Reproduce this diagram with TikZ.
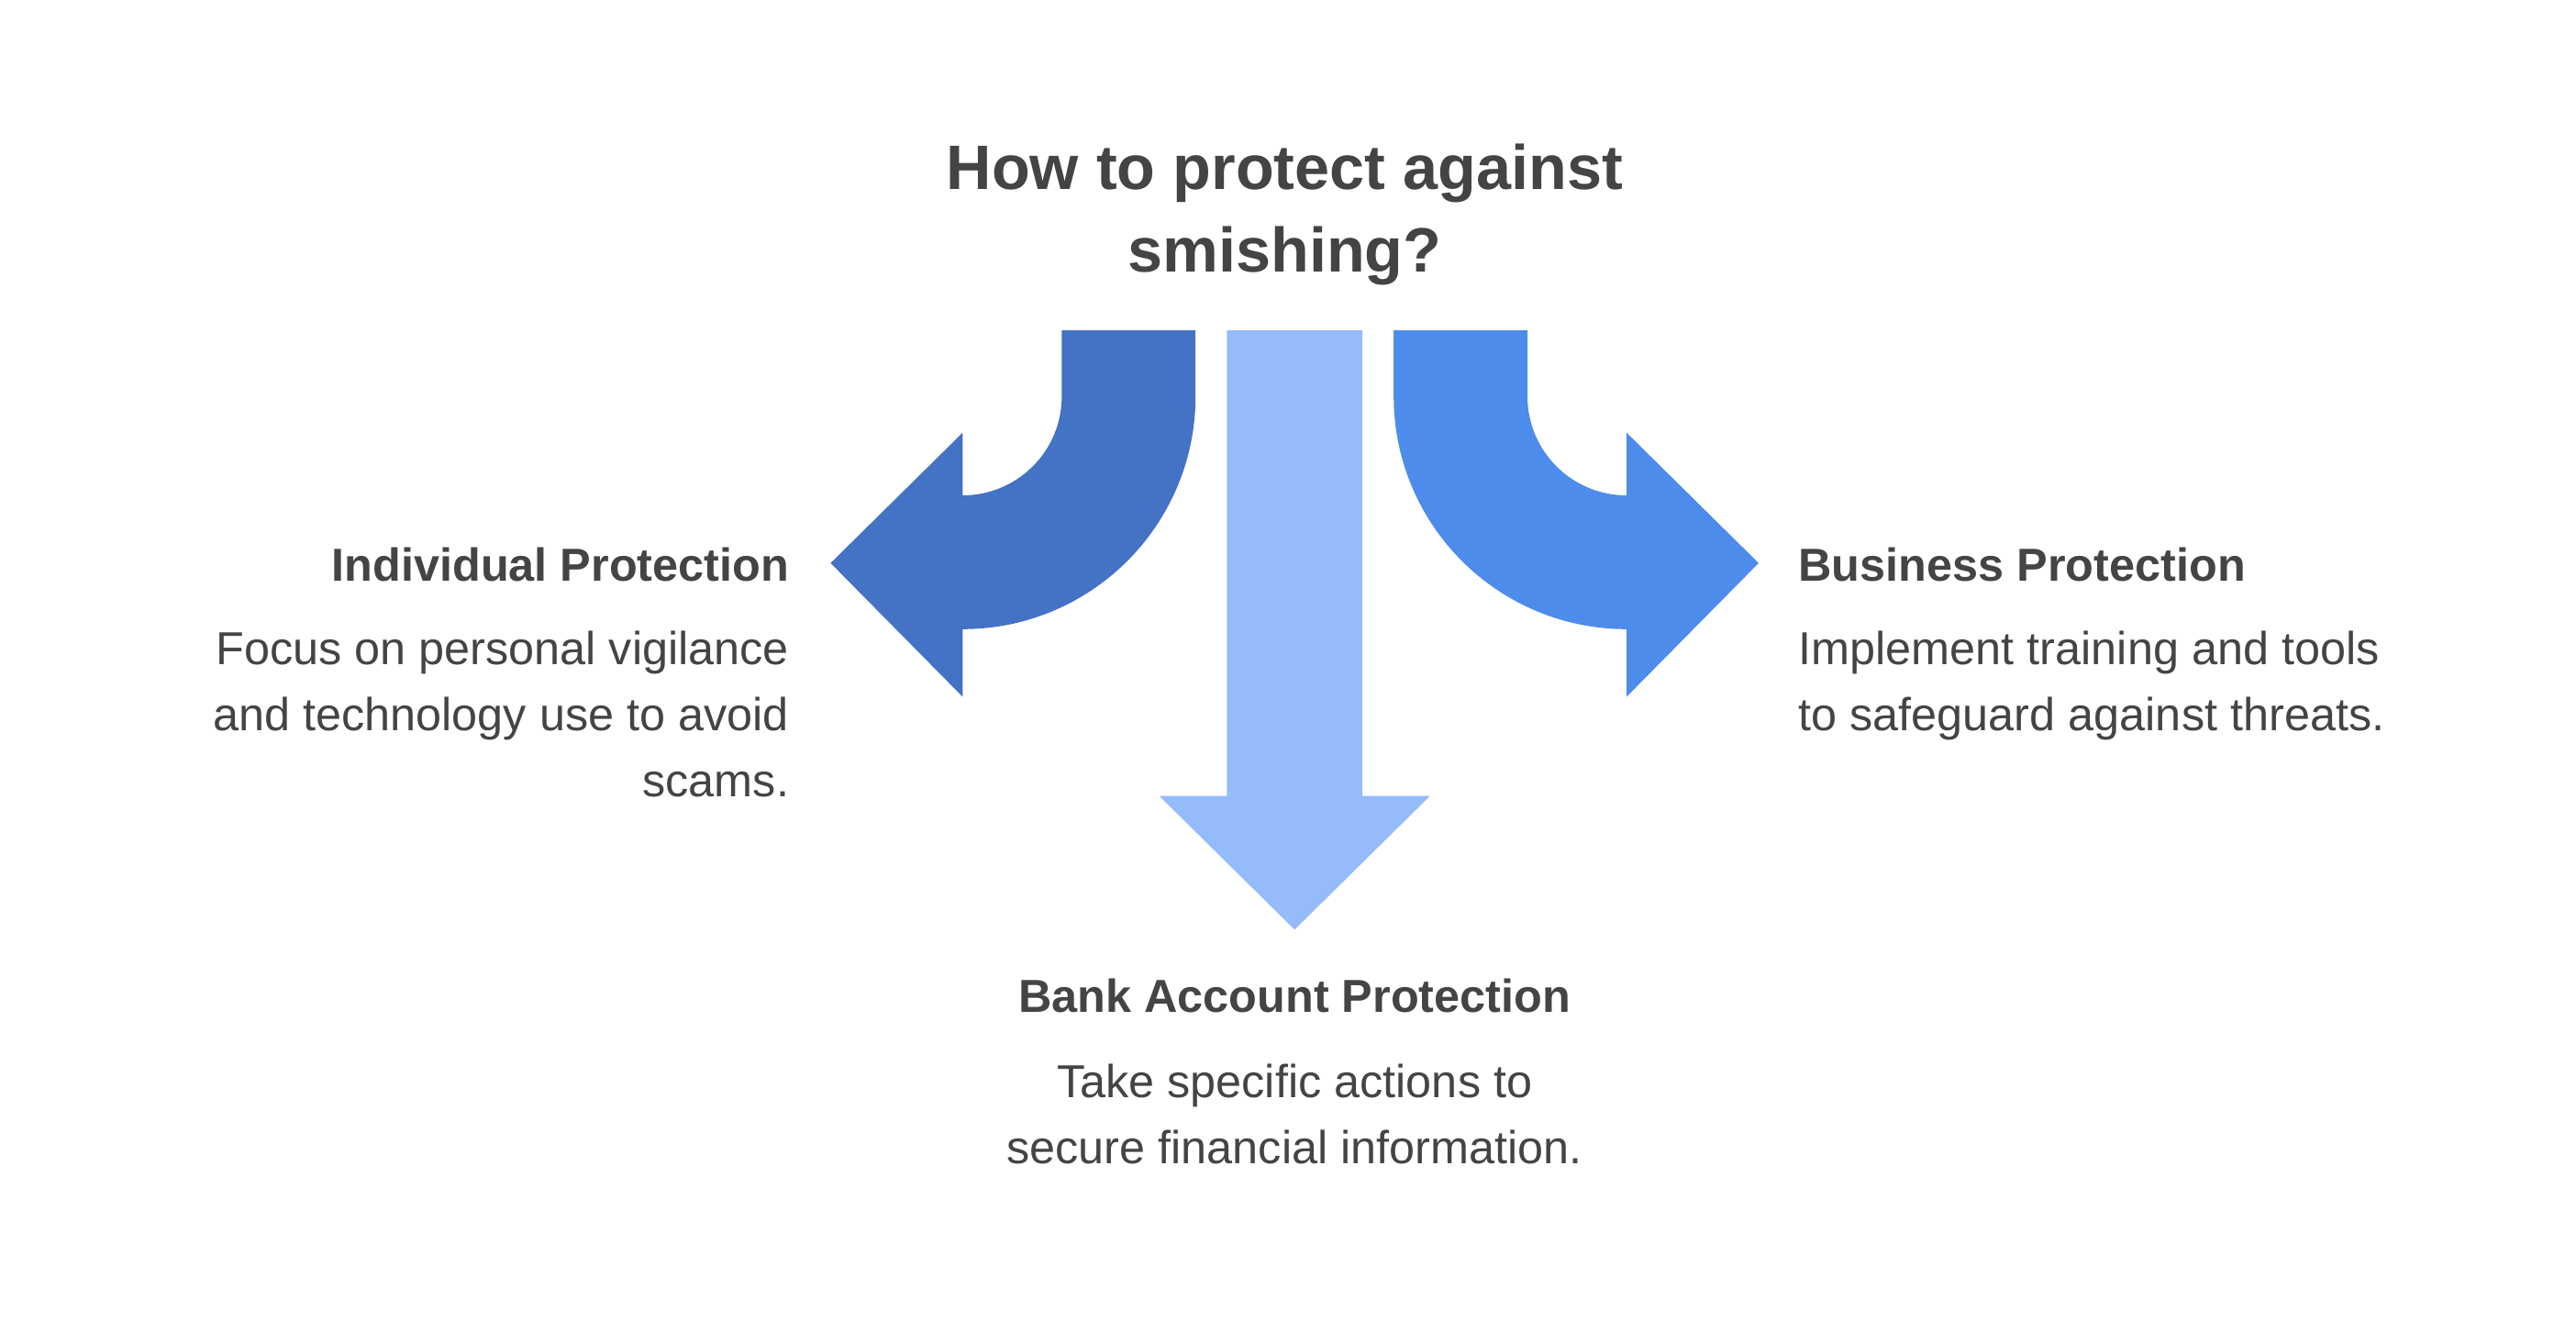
\documentclass[tikz,border=0pt]{standalone}
\usepackage{fontspec}
\setmainfont{Liberation Sans}
\begin{document}
\begin{tikzpicture}[x=1pt,y=-1pt,
  txt/.style={text=tcol,inner sep=0pt,font=\fontsize{28}{40}\selectfont},
  head/.style={text=tcol,inner sep=0pt,font=\fontsize{28}{34}\selectfont\bfseries}]
\definecolor{tcol}{HTML}{444444}
\definecolor{colL}{HTML}{4472C4}
\definecolor{colR}{HTML}{4E8CEB}
\definecolor{colM}{HTML}{95BBFB}
\useasboundingbox (0,0) rectangle (1560,800);
\fill[colL] (643,200) -- (724,200) -- (724,240) arc[start angle=0,end angle=90,radius=141] -- (583,422) -- (503,341) -- (583,262) -- (583,300) arc[start angle=90,end angle=0,radius=60] -- cycle;
\fill[colR] (925,200) -- (844,200) -- (844,240) arc[start angle=180,end angle=90,radius=141] -- (985,422) -- (1065,341) -- (985,262) -- (985,300) arc[start angle=90,end angle=180,radius=60] -- cycle;
\fill[colM] (743,200) -- (825,200) -- (825,482) -- (866,482) -- (784,563) -- (702,482) -- (743,482) -- cycle;
\node[text=tcol,inner sep=0pt,align=center,font=\fontsize{38}{50}\selectfont\bfseries] (t) at (778,130) {How to protect against\\smishing?};
\node[head,anchor=east] (h1) at (478,342) {Individual Protection};
\node[txt,anchor=north east,align=right] (b1) at (478,382) {Focus on personal vigilance\\and technology use to avoid\\scams.};
\node[head,anchor=west] (h2) at (1089,342) {Business Protection};
\node[txt,anchor=north west,align=left] (b2) at (1089,382) {Implement training and tools\\to safeguard against threats.};
\node[head] (h3) at (784,603) {Bank Account Protection};
\node[txt,anchor=north,align=center] (b3) at (784,644) {Take specific actions to\\secure financial information.};
\end{tikzpicture}
\end{document}
